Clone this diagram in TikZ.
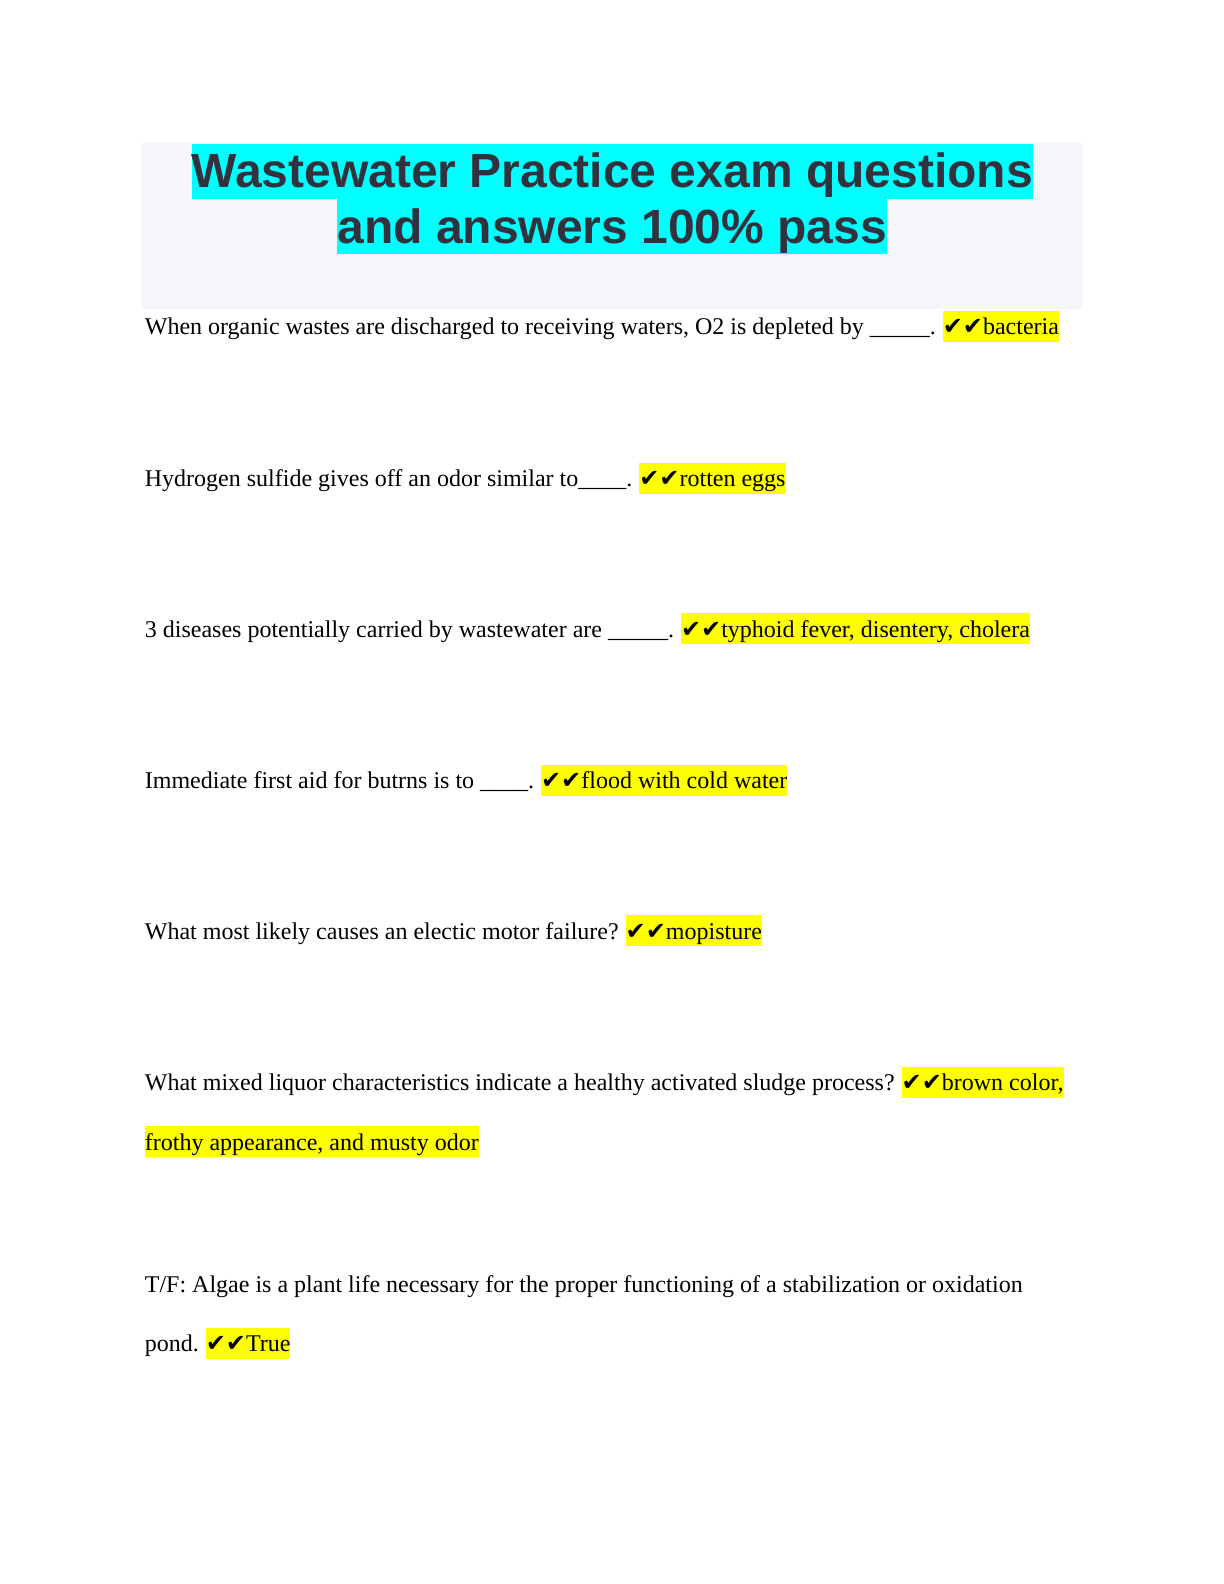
\documentclass[tikz,border=0pt]{standalone}
\usepackage{fontspec}
\setmainfont{Liberation Serif}
\newfontfamily\titlefont{Liberation Sans}
\newfontfamily\chkfont{DejaVu Sans}
\usetikzlibrary{calc}
\definecolor{titlegray}{RGB}{50,50,62}
\definecolor{boxgray}{RGB}{245,246,250}
\definecolor{hlyellow}{RGB}{255,255,0}
\definecolor{hlcyan}{RGB}{0,255,255}
\newcommand{\chks}{{\chkfont\bfseries ✔✔}}
\begin{document}
\begin{tikzpicture}[x=0.5bp,y=-0.5bp,
  ttl/.style={fill=hlcyan,inner sep=0pt,text height=22bp,text depth=5.5bp,
    font=\titlefont\bfseries\fontsize{24bp}{27bp}\selectfont,text=titlegray,anchor=north},
  ques/.style={inner sep=0pt,anchor=base west,font=\fontsize{12bp}{14bp}\selectfont},
  ans/.style={fill=hlyellow,inner sep=0pt,text height=12bp,text depth=3.5bp,
    anchor=base west,font=\fontsize{12bp}{14bp}\selectfont}]
\useasboundingbox (0,0) rectangle (1224,1584);
\fill[white] (0,0) rectangle (1224,1584);
\begin{scope}[scale=1.0103]
\fill[boxgray] (140,142) rectangle (1072,306);
\node[ttl] (t1) at (606,142) {Wastewater Practice exam questions};
\node[ttl] (t2) at (606,197) {and answers 100\% pass};
% Q1
\node[ques] (q1) at (143,331.5) {When organic wastes are discharged to receiving waters, O2 is depleted by \_\_\_\_\_.};
\node[ans] (a1) at ($(q1.base east)+(6,0)$) {\chks bacteria};
% Q2
\node[ques] (q2) at (143,481.5) {Hydrogen sulfide gives off an odor similar to\_\_\_\_.};
\node[ans] (a2) at ($(q2.base east)+(6,0)$) {\chks rotten eggs};
% Q3
\node[ques] (q3) at (143,630.5) {3 diseases potentially carried by wastewater are \_\_\_\_\_.};
\node[ans] (a3) at ($(q3.base east)+(6,0)$) {\chks typhoid fever, disentery, cholera};
% Q4
\node[ques] (q4) at (143,780.5) {Immediate first aid for butrns is to \_\_\_\_.};
\node[ans] (a4) at ($(q4.base east)+(6,0)$) {\chks flood with cold water};
% Q5
\node[ques] (q5) at (143,929.5) {What most likely causes an electic motor failure?};
\node[ans] (a5) at ($(q5.base east)+(6,0)$) {\chks mopisture};
% Q6
\node[ques] (q6) at (143,1079.5) {What mixed liquor characteristics indicate a healthy activated sludge process?};
\node[ans] (a6) at ($(q6.base east)+(6,0)$) {\chks brown color,};
\node[ans] (a6b) at (143,1138.5) {frothy appearance, and musty odor};
% Q7
\node[ques] (q7) at (143,1279.5) {T/F: Algae is a plant life necessary for the proper functioning of a stabilization or oxidation};
\node[ques] (q7b) at (143,1337.5) {pond.};
\node[ans] (a7) at ($(q7b.base east)+(6,0)$) {\chks True};
\end{scope}
\end{tikzpicture}
\end{document}
